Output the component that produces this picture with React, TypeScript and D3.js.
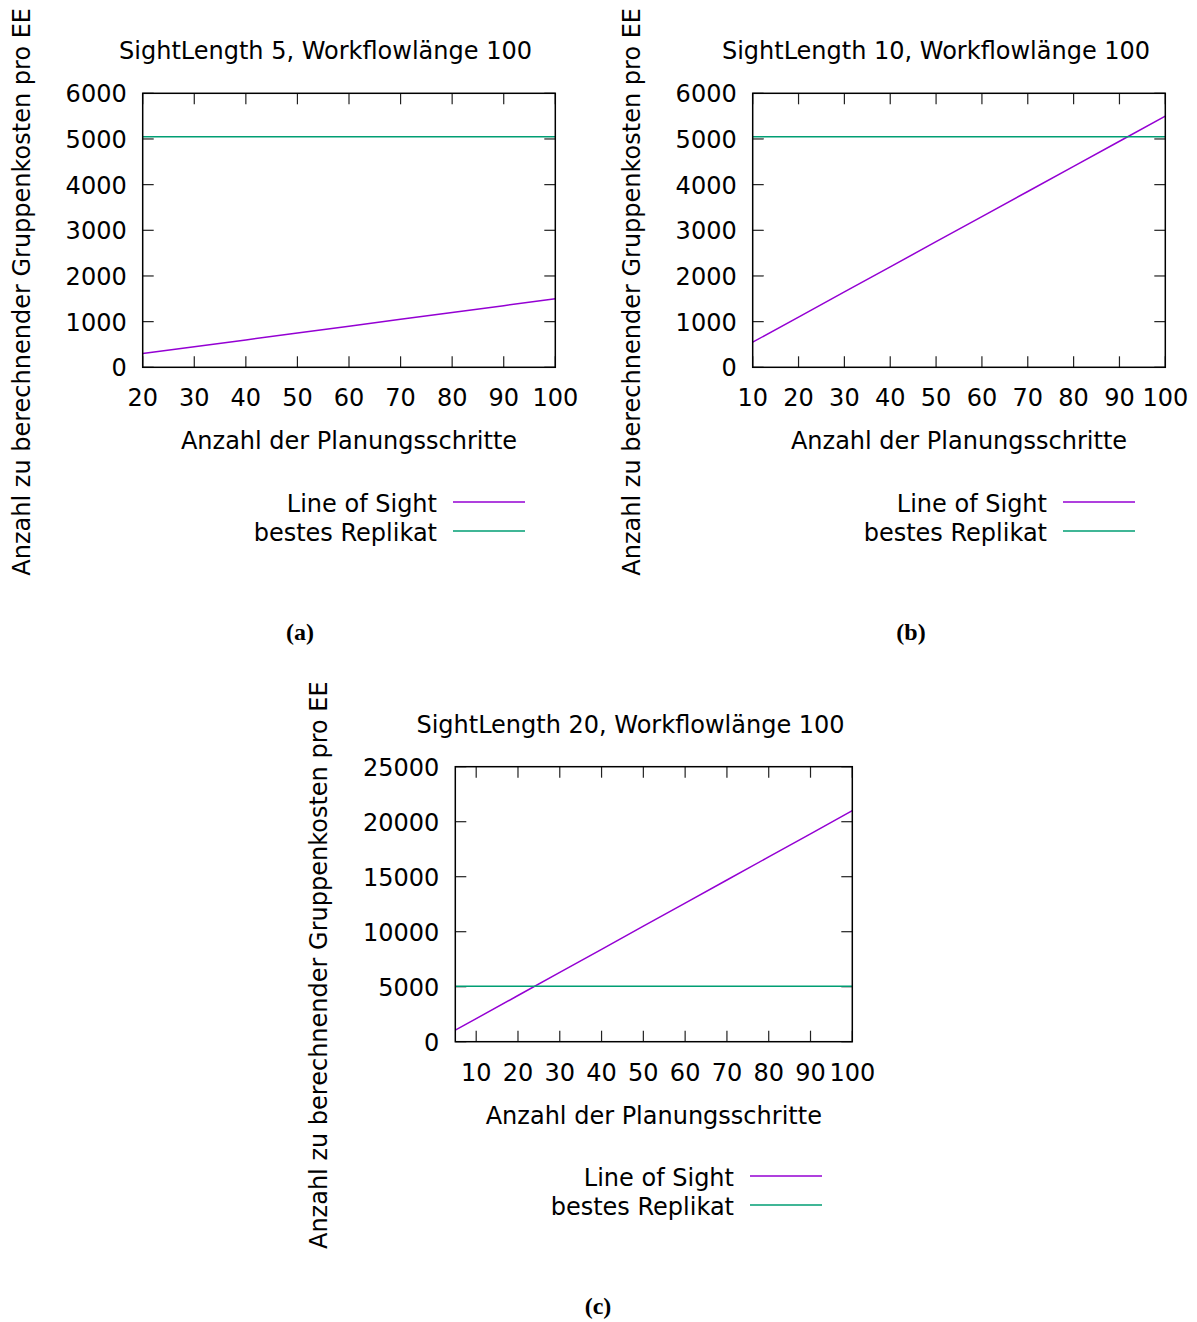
import React from "react";
import * as d3 from "d3";

const stepsA = [20, 30, 40, 50, 60, 70, 80, 90, 100];
const lineOfSightA = [300, 450, 600, 750, 900, 1050, 1200, 1350, 1500];
const bestReplicaA = [5050, 5050, 5050, 5050, 5050, 5050, 5050, 5050, 5050];

const stepsB = [10, 20, 30, 40, 50, 60, 70, 80, 90, 100];
const lineOfSightB = [550, 1100, 1650, 2200, 2750, 3300, 3850, 4400, 4950, 5500];
const bestReplicaB = [5050, 5050, 5050, 5050, 5050, 5050, 5050, 5050, 5050, 5050];

const stepsC = [5, 10, 20, 30, 40, 50, 60, 70, 80, 90, 100];
const lineOfSightC = [1050, 2100, 4200, 6300, 8400, 10500, 12600, 14700, 16800, 18900, 21000];
const bestReplicaC = [5050, 5050, 5050, 5050, 5050, 5050, 5050, 5050, 5050, 5050, 5050];

const xTicksA = [20, 30, 40, 50, 60, 70, 80, 90, 100];
const xTicksB = [10, 20, 30, 40, 50, 60, 70, 80, 90, 100];
const xTicksC = [10, 20, 30, 40, 50, 60, 70, 80, 90, 100];
const yTicksAB = [0, 1000, 2000, 3000, 4000, 5000, 6000];
const yTicksC = [0, 5000, 10000, 15000, 20000, 25000];

const seriesNames = ["Line of Sight", "bestes Replikat"];
const seriesColors = ["#9400d3", "#009e73"];
const yLabel = "Anzahl zu berechnender Gruppenkosten pro EE";
const xLabel = "Anzahl der Planungsschritte";

const FONT = "'DejaVu Sans', sans-serif";
const FS = 24;

type PanelProps = {
  box: [number, number, number, number]; // left, right, top, bottom
  xDomain: [number, number];
  yDomain: [number, number];
  xTicks: number[];
  yTicks: number[];
  steps: number[];
  series: number[][];
  title: string;
  titleX: number;
  yLabelX: number;
  legendRight: number;
  legendY: number;
  caption: string;
  captionX: number;
  captionY: number;
};

function Panel(p: PanelProps) {
  const [l, r, t, b] = p.box;
  const x = d3.scaleLinear().domain(p.xDomain).range([l, r]);
  const y = d3.scaleLinear().domain(p.yDomain).range([b, t]);
  const line = d3
    .line<[number, number]>()
    .x((d) => x(d[0]))
    .y((d) => y(d[1]));
  const tickLen = 11;
  return (
    <g>
      <text x={p.titleX} y={t - 42} fontFamily={FONT} fontSize={FS} textAnchor="middle" dominantBaseline="central" fill="#000">
        {p.title}
      </text>
      {p.xTicks.map((v) => (
        <g key={"x" + v}>
          <line x1={x(v)} x2={x(v)} y1={b} y2={b - tickLen} stroke="#222" strokeWidth={1.2} />
          <line x1={x(v)} x2={x(v)} y1={t} y2={t + tickLen} stroke="#222" strokeWidth={1.2} />
          <text x={x(v)} y={b + 31} fontFamily={FONT} fontSize={FS} textAnchor="middle" dominantBaseline="central" fill="#000">
            {v}
          </text>
        </g>
      ))}
      {p.yTicks.map((v) => (
        <g key={"y" + v}>
          <line x1={l} x2={l + tickLen} y1={y(v)} y2={y(v)} stroke="#222" strokeWidth={1.2} />
          <line x1={r} x2={r - tickLen} y1={y(v)} y2={y(v)} stroke="#222" strokeWidth={1.2} />
          <text x={l - 16} y={y(v) + 1} fontFamily={FONT} fontSize={FS} textAnchor="end" dominantBaseline="central" fill="#000">
            {v}
          </text>
        </g>
      ))}
      {p.series.map((vals, i) => (
        <path
          key={"s" + i}
          d={line(p.steps.map((s, j) => [s, vals[j]] as [number, number])) || ""}
          fill="none"
          stroke={seriesColors[i]}
          strokeWidth={1.5}
        />
      ))}
      <rect x={l} y={t} width={r - l} height={b - t} fill="none" stroke="#000" strokeWidth={1.5} />
      <text x={(l + r) / 2} y={b + 74} fontFamily={FONT} fontSize={FS} textAnchor="middle" dominantBaseline="central" fill="#000">
        {xLabel}
      </text>
      <text
        transform={`translate(${p.yLabelX},${t + 198.5}) rotate(-90)`}
        fontFamily={FONT}
        fontSize={FS}
        textAnchor="middle"
        dominantBaseline="central"
        fill="#000"
      >
        {yLabel}
      </text>
      {seriesNames.map((n, i) => (
        <g key={"l" + i}>
          <text x={p.legendRight} y={p.legendY + 1 + i * 29} fontFamily={FONT} fontSize={FS} textAnchor="end" dominantBaseline="central" fill="#000">
            {n}
          </text>
          <line x1={p.legendRight + 16} x2={p.legendRight + 88} y1={p.legendY + i * 29 - 1} y2={p.legendY + i * 29 - 1} stroke={seriesColors[i]} strokeWidth={1.5} />
        </g>
      ))}
      <text x={p.captionX} y={p.captionY} fontFamily="'Liberation Serif', serif" fontWeight="bold" fontSize={24} textAnchor="middle" dominantBaseline="central" fill="#000">
        {p.caption}
      </text>
    </g>
  );
}

export default function App() {
  return (
    <svg width={1197} height={1322} style={{ position: "absolute", left: 0, top: 0, background: "#fff" }}>
      <rect width={1197} height={1322} fill="#fff" />
      <Panel
        box={[142.7, 555.3, 93.3, 367.3]}
        xDomain={[20, 100]}
        yDomain={[0, 6000]}
        xTicks={xTicksA}
        yTicks={yTicksAB}
        steps={stepsA}
        series={[lineOfSightA, bestReplicaA]}
        title="SightLength 5, Workflowlänge 100"
        titleX={325.5}
        yLabelX={22}
        legendRight={437}
        legendY={503}
        caption="(a)"
        captionX={300}
        captionY={632}
      />
      <Panel
        box={[752.7, 1165.3, 93.3, 367.3]}
        xDomain={[10, 100]}
        yDomain={[0, 6000]}
        xTicks={xTicksB}
        yTicks={yTicksAB}
        steps={stepsB}
        series={[lineOfSightB, bestReplicaB]}
        title="SightLength 10, Workflowlänge 100"
        titleX={936}
        yLabelX={632}
        legendRight={1047}
        legendY={503}
        caption="(b)"
        captionX={911}
        captionY={632}
      />
      <Panel
        box={[455.3, 852.3, 766.7, 1041.7]}
        xDomain={[5, 100]}
        yDomain={[0, 25000]}
        xTicks={xTicksC}
        yTicks={yTicksC}
        steps={stepsC}
        series={[lineOfSightC, bestReplicaC]}
        title="SightLength 20, Workflowlänge 100"
        titleX={630.5}
        yLabelX={319}
        legendRight={734}
        legendY={1177}
        caption="(c)"
        captionX={598}
        captionY={1306}
      />
    </svg>
  );
}
